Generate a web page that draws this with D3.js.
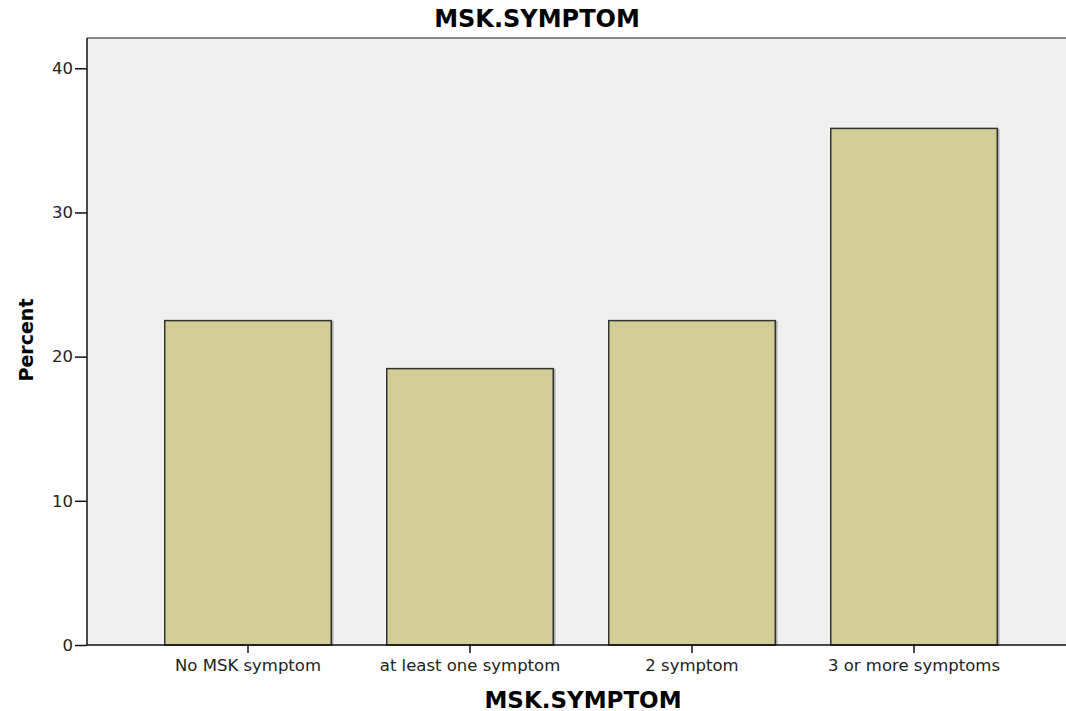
<html>
<style>
body { margin: 0; background: #fff; }
svg { font-family: "DejaVu Sans", sans-serif; }
.axis text { font-size: 16.5px; fill: #222; font-family: "DejaVu Sans", sans-serif; }
.axis line { stroke: #111; stroke-width: 1.5; }
</style>
<svg width="1066" height="711"></svg>
<script src="https://d3js.org/d3.v7.min.js"></script>
<script>
var categories = ["No MSK symptom", "at least one symptom", "2 symptom", "3 or more symptoms"];
var percents = [22.5, 19.17, 22.5, 35.83];
var yTicks = [0, 10, 20, 30, 40];

var svg = d3.select("svg");
var plotLeft = 87, plotRight = 1066, plotTop = 38, plotBottom = 645;

var x = d3.scaleBand()
    .domain(categories)
    .range([137, 1025])
    .paddingInner(0.25)
    .paddingOuter(0.125);

var y = d3.scaleLinear()
    .domain([0, 42.1])
    .range([plotBottom, plotTop]);

// plot background
svg.append("rect")
    .attr("x", plotLeft).attr("y", plotTop)
    .attr("width", plotRight - plotLeft).attr("height", plotBottom - plotTop)
    .attr("fill", "#f0f0f0");

svg.append("line")
    .attr("x1", plotLeft).attr("x2", plotRight)
    .attr("y1", plotTop).attr("y2", plotTop)
    .attr("stroke", "#888").attr("stroke-width", 2);

var data = categories.map((c, i) => ({cat: c, v: percents[i]}));

// soft shadow on the right side of bars
svg.selectAll(".shadow").data(data).enter().append("rect")
    .attr("class", "shadow")
    .attr("x", d => x(d.cat) + 1.5)
    .attr("y", d => y(d.v) + 1)
    .attr("width", x.bandwidth())
    .attr("height", d => plotBottom - y(d.v) - 1)
    .attr("fill", "none")
    .attr("stroke", "#aaa").attr("stroke-width", 1.5);

svg.selectAll(".bar").data(data).enter().append("rect")
    .attr("class", "bar")
    .attr("x", d => x(d.cat))
    .attr("y", d => y(d.v))
    .attr("width", x.bandwidth())
    .attr("height", d => plotBottom - y(d.v))
    .attr("fill", "#d2ce96")
    .attr("stroke", "#333").attr("stroke-width", 1.5);

var yAxis = svg.append("g")
    .attr("class", "axis")
    .attr("transform", "translate(" + plotLeft + ",0)")
    .call(d3.axisLeft(y).tickValues(yTicks).tickSize(12).tickPadding(2).tickSizeOuter(0));
yAxis.select(".domain").remove();
yAxis.append("line")
    .attr("x1", 0).attr("x2", 0).attr("y1", plotTop).attr("y2", plotBottom);

var xAxis = svg.append("g")
    .attr("class", "axis")
    .attr("transform", "translate(0," + plotBottom + ")")
    .call(d3.axisBottom(x).tickSize(8).tickPadding(6).tickSizeOuter(0));
xAxis.select(".domain").remove();
xAxis.append("line")
    .attr("x1", plotLeft).attr("x2", plotRight).attr("y1", 0).attr("y2", 0);

svg.append("text")
    .attr("x", 537).attr("y", 27)
    .attr("text-anchor", "middle")
    .style("font-size", "24px").style("font-weight", "bold")
    .text("MSK.SYMPTOM");

svg.append("text")
    .attr("x", 583).attr("y", 708)
    .attr("text-anchor", "middle")
    .style("font-size", "23px").style("font-weight", "bold")
    .text("MSK.SYMPTOM");

svg.append("text")
    .attr("transform", "translate(33,340) rotate(-90)")
    .attr("text-anchor", "middle")
    .style("font-size", "19px").style("font-weight", "bold")
    .text("Percent");
</script>
</html>
